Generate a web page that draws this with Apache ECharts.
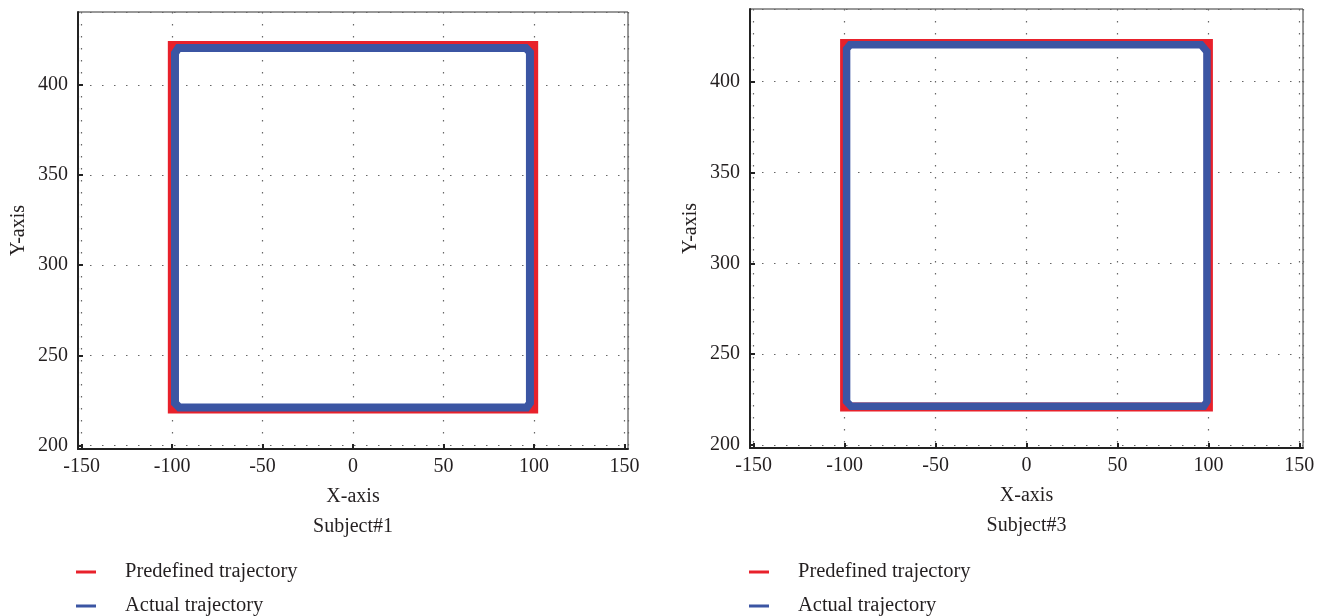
<!DOCTYPE html>
<html><head><meta charset="utf-8">
<script src="https://cdn.jsdelivr.net/npm/echarts@6/dist/echarts.min.js"></script>
<style>html,body{margin:0;padding:0;background:#fff}#c{width:1326px;height:616px}</style>
</head><body><div id="c"></div>
<script>
// Subject#1
const s1PredX = [0, -100, -100, 100, 100, 0];
const s1PredY = [220, 220, 422, 422, 220, 220];
const s1ActX = [0, -96, -98.4, -98.4, -96.5, 95.5, 97.8, 97.8, 96, 0];
const s1ActY = [221, 221, 223.5, 417.5, 420.5, 420.5, 418, 223.5, 221, 221];
// Subject#3
const s3PredX = [0, -100, -100, 100, 100, 0];
const s3PredY = [221, 221, 421, 421, 221, 221];
const s3ActX = [0, -96.5, -98.9, -98.9, -97, 96, 99.2, 99.2, 97.5, 0];
const s3ActY = [221.4, 221.4, 224, 418, 420.3, 420.3, 416.5, 224, 221.4, 221.4];

const xTicks = [-150, -100, -50, 0, 50, 100, 150];
const yTicks = [200, 250, 300, 350, 400];
const subjects = ['Subject#1', 'Subject#3'];
const seriesNames = ['Predefined trajectory', 'Actual trajectory'];

const RED = '#e8212b', BLUE = '#3b55a3', TXT = '#231f20';
const FONT = 'Liberation Serif';
const FS = 20;
const zip = (xs, ys) => xs.map((x, i) => [x, ys[i]]);

const grids = [
  {left: 78, right: 698, top: 12, bottom: 167},
  {left: 750, right: 23, top: 9, bottom: 168}
];
const yRanges = [[198, 440.4], [198.4, 440]];

const xAxes = grids.map((g, i) => ({
  type: 'value', gridIndex: i, min: -152, max: 152, splitNumber: 6,
  name: 'X-axis\n' + subjects[i], nameLocation: 'middle', nameGap: 28,
  nameTextStyle: {fontFamily: FONT, fontSize: FS, color: TXT, lineHeight: 30},
  axisLine: {show: true, onZero: false, lineStyle: {color: '#222', width: 2}},
  axisTick: {show: true, inside: true, length: 5, lineStyle: {color: '#222', width: 2}},
  axisLabel: {fontFamily: FONT, fontSize: FS, color: TXT, margin: 8, showMinLabel: false, showMaxLabel: false,
    formatter: v => xTicks.includes(v) ? String(v) : ''},
  splitLine: {show: true, lineStyle: {color: '#666', width: 1.2, type: [1.5, 10.5]}}
}));
const yAxes = grids.map((g, i) => ({
  type: 'value', gridIndex: i, min: yRanges[i][0], max: yRanges[i][1], splitNumber: 5,
  name: 'Y-axis', nameLocation: 'middle', nameGap: 49,
  nameTextStyle: {fontFamily: FONT, fontSize: FS, color: TXT},
  axisLine: {show: true, onZero: false, lineStyle: {color: '#222', width: 2}},
  axisTick: {show: true, inside: true, length: 5, lineStyle: {color: '#222', width: 2}},
  axisLabel: {fontFamily: FONT, fontSize: FS, color: TXT, margin: 10, showMinLabel: false, showMaxLabel: false,
    formatter: v => yTicks.includes(v) ? String(v) : ''},
  splitLine: {show: true, lineStyle: {color: '#666', width: 1.2, type: [1.5, 10.5]}}
}));

function mk(name, idx, xs, ys, color, w) {
  return {
    name, type: 'line', xAxisIndex: idx, yAxisIndex: idx, data: zip(xs, ys),
    showSymbol: false, symbol: 'none', animation: false, clip: false,
    lineStyle: {color, width: w, join: 'miter', cap: 'square'}, itemStyle: {color}
  };
}

const legendBase = {top: 561, orient: 'vertical', padding: 0, itemGap: 12, itemWidth: 20, itemHeight: 3,
  icon: 'rect', height: 70, data: seriesNames,
  textStyle: {fontFamily: FONT, fontSize: 20.5, color: TXT, lineHeight: 22, padding: [0, 0, 0, 24]}};

const option = {
  animation: false,
  grid: grids.map(g => Object.assign({show: true, borderColor: '#333', borderWidth: 1, backgroundColor: 'transparent'}, g)),
  xAxis: xAxes, yAxis: yAxes,
  legend: [
    Object.assign({left: 76}, legendBase),
    Object.assign({left: 749}, legendBase)
  ],
  series: [
    mk(seriesNames[0], 0, s1PredX, s1PredY, RED, 8.5),
    mk(seriesNames[1], 0, s1ActX, s1ActY, BLUE, 8),
    mk(seriesNames[0], 1, s3PredX, s3PredY, RED, 9),
    mk(seriesNames[1], 1, s3ActX, s3ActY, BLUE, 7.5)
  ]
};
const chart = echarts.init(document.getElementById('c'), null, {renderer: 'canvas'});
chart.setOption(option);
</script></body></html>
